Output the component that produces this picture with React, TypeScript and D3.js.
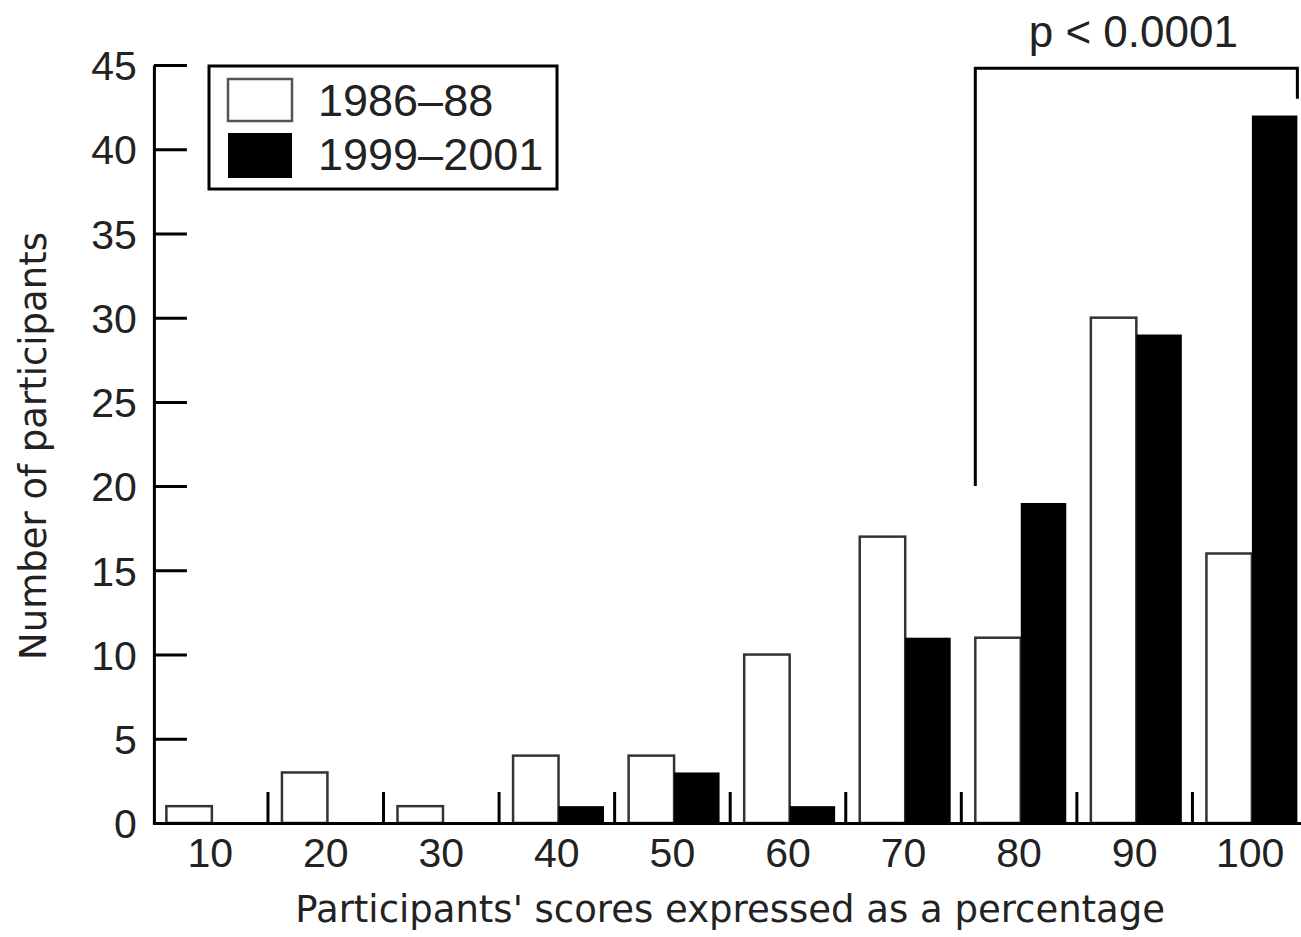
import React, { useRef, useEffect } from 'react';
import * as d3 from 'd3';

// score bands (x categories)
const categories = ['10', '20', '30', '40', '50', '60', '70', '80', '90', '100'];
const seriesNames = ['1986–88', '1999–2001'];
// number of participants per band
const values8688 = [1, 3, 1, 4, 4, 10, 17, 11, 30, 16];
const values9901 = [0, 0, 0, 1, 3, 1, 11, 19, 29, 42];
const yTicks = [0, 5, 10, 15, 20, 25, 30, 35, 40, 45];

// significance bracket over the 80-100 bands
const pLabel = 'p < 0.0001';
const bracketFrom = '80';
const bracketTo = '100';
const bracketTop = 44.8;
const bracketLeftEnd = 20;
const bracketRightEnd = 43;

const App = () => {
  const chart = useRef<SVGSVGElement>(null);

  useEffect(() => {
    const svg = d3.select(chart.current);
    svg.selectAll('*').remove();

    const W = 1301;
    const H = 937;
    const left = 152.4;
    const right = 1308;
    const top = 65;
    const bottom = 823;
    const numFont = 'Liberation Sans, Arial, sans-serif';
    const titleFont = 'DejaVu Sans, sans-serif';

    const x = d3.scaleBand<string>().domain(categories).range([left, right]);
    const inner = d3
      .scaleBand<string>()
      .domain(['a', 'b'])
      .range([x.bandwidth() * 0.121, x.bandwidth() * 0.908]);
    const y = d3.scaleLinear().domain([0, 45]).range([bottom, top]);

    svg.append('rect').attr('width', W).attr('height', H).attr('fill', '#fff');

    // bars
    const rows = categories.map((c, i) => ({ c, a: values8688[i], b: values9901[i] }));
    const g = svg.append('g');
    g.selectAll('rect.a')
      .data(rows.filter((d) => d.a > 0))
      .enter()
      .append('rect')
      .attr('x', (d) => x(d.c)! + inner('a')!)
      .attr('y', (d) => y(d.a))
      .attr('width', inner.bandwidth())
      .attr('height', (d) => bottom - y(d.a))
      .attr('fill', '#fff')
      .attr('stroke', '#333')
      .attr('stroke-width', 2.5);
    g.selectAll('rect.b')
      .data(rows.filter((d) => d.b > 0))
      .enter()
      .append('rect')
      .attr('x', (d) => x(d.c)! + inner('b')!)
      .attr('y', (d) => y(d.b))
      .attr('width', inner.bandwidth())
      .attr('height', (d) => bottom - y(d.b))
      .attr('fill', '#000');

    // separators between bands
    g.selectAll('line.sep')
      .data(categories.slice(1))
      .enter()
      .append('line')
      .attr('x1', (d) => x(d)!)
      .attr('x2', (d) => x(d)!)
      .attr('y1', bottom)
      .attr('y2', bottom - 31)
      .attr('stroke', '#000')
      .attr('stroke-width', 3);

    // y axis, ticks pointing inwards
    const yAxis = svg
      .append('g')
      .attr('transform', `translate(${left + 1.5},0)`)
      .call(d3.axisLeft(y).tickValues(yTicks).tickSizeInner(-33).tickSizeOuter(0).tickPadding(17));
    yAxis.select('.domain').attr('stroke-width', 3);
    yAxis.selectAll('.tick line').attr('stroke-width', 3);
    yAxis
      .selectAll('.tick text')
      .attr('font-family', numFont)
      .attr('font-size', 41)
      .attr('fill', '#222')
      .attr('dy', '0.36em');

    // x axis
    const xAxis = svg
      .append('g')
      .attr('transform', `translate(0,${bottom})`)
      .call(d3.axisBottom(x).tickSize(0).tickPadding(15));
    xAxis.select('.domain').attr('stroke-width', 3);
    xAxis
      .selectAll('.tick text')
      .attr('font-family', numFont)
      .attr('font-size', 41)
      .attr('fill', '#222');

    // axis titles
    svg
      .append('text')
      .attr('x', (left + right) / 2)
      .attr('y', 922)
      .attr('text-anchor', 'middle')
      .attr('font-family', titleFont)
      .attr('font-size', 37)
      .attr('fill', '#222')
      .text("Participants' scores expressed as a percentage");
    svg
      .append('text')
      .attr('transform', `translate(46,${(top + bottom) / 2 + 2}) rotate(-90)`)
      .attr('text-anchor', 'middle')
      .attr('font-family', titleFont)
      .attr('font-size', 37)
      .attr('fill', '#222')
      .text('Number of participants');

    // bracket
    const bx1 = x(bracketFrom)! + inner('a')!;
    const bx2 = x(bracketTo)! + inner('b')! + inner.bandwidth();
    svg
      .append('path')
      .attr(
        'd',
        `M${bx1},${y(bracketLeftEnd)}V${y(bracketTop)}H${bx2}V${y(bracketRightEnd)}`
      )
      .attr('fill', 'none')
      .attr('stroke', '#000')
      .attr('stroke-width', 3);
    svg
      .append('text')
      .attr('x', (bx1 + bx2) / 2 - 3)
      .attr('y', 47)
      .attr('text-anchor', 'middle')
      .attr('font-family', numFont)
      .attr('font-size', 44)
      .attr('fill', '#222')
      .text(pLabel);

    // legend
    const lg = svg.append('g');
    lg.append('rect')
      .attr('x', 209)
      .attr('y', 66)
      .attr('width', 348)
      .attr('height', 123)
      .attr('fill', '#fff')
      .attr('stroke', '#000')
      .attr('stroke-width', 3);
    seriesNames.forEach((name, i) => {
      lg.append('rect')
        .attr('x', 228)
        .attr('y', 79 + i * 54)
        .attr('width', 64)
        .attr('height', i === 0 ? 42 : 45)
        .attr('fill', i === 0 ? '#fff' : '#000')
        .attr('stroke', i === 0 ? '#555' : 'none')
        .attr('stroke-width', 2.5);
      lg.append('text')
        .attr('x', 318)
        .attr('y', 116 + i * 54)
        .attr('font-family', numFont)
        .attr('font-size', 45)
        .attr('fill', '#222')
        .text(name);
    });
  }, []);

  return (
    <svg
      ref={chart}
      width={1301}
      height={937}
      style={{ position: 'absolute', left: 0, top: 0, display: 'block' }}
    />
  );
};

export default App;
